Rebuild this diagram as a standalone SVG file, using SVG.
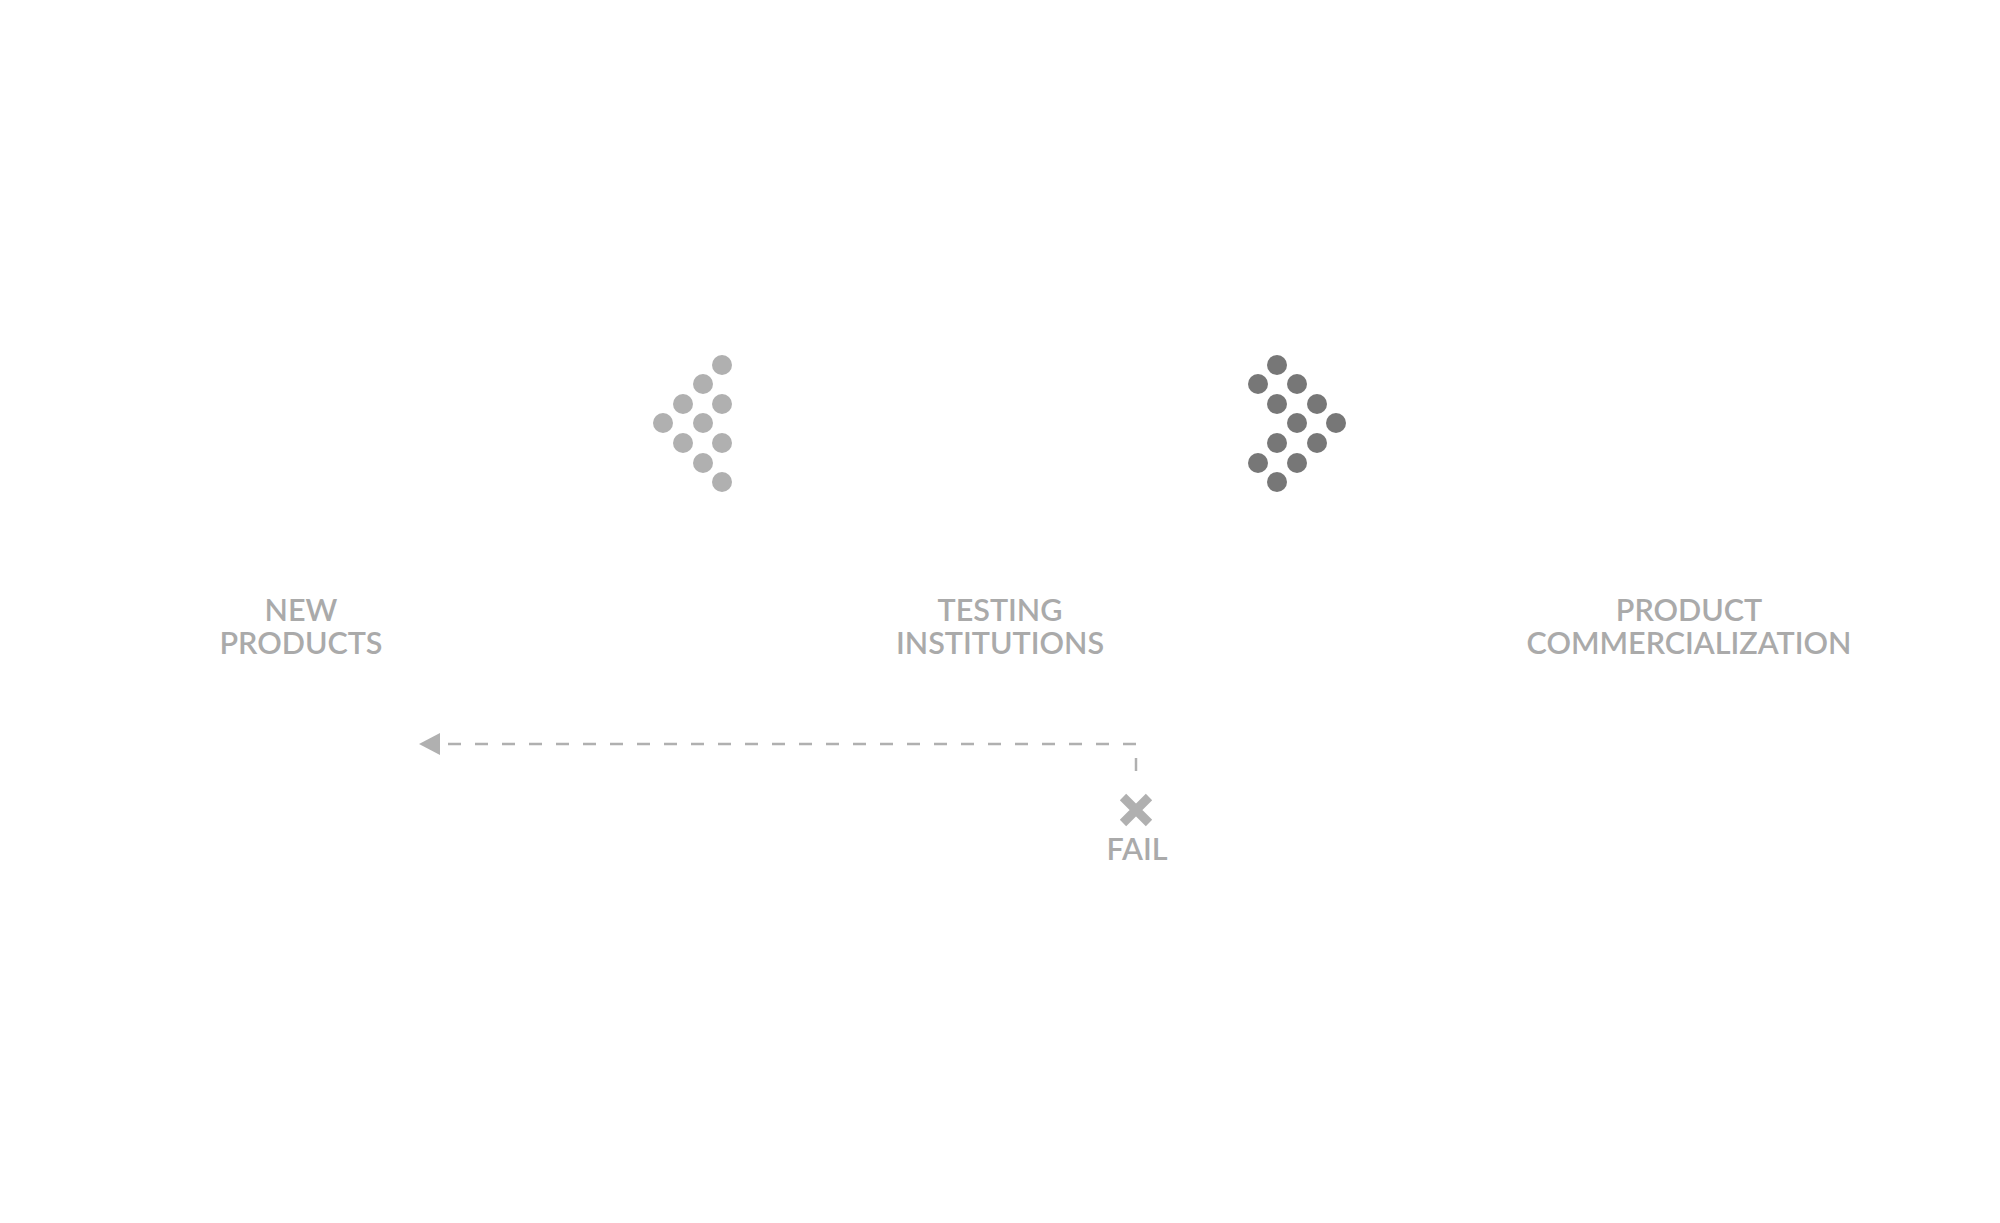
<svg xmlns="http://www.w3.org/2000/svg" width="2000" height="1223" viewBox="0 0 2000 1223">
<style>
.l{fill:#b0b0b0}.d{fill:#777}
text{font-family:Lato,"Liberation Sans",sans-serif;font-size:30.5px;font-weight:600;fill:#aaa;text-anchor:middle}
</style>
<rect width="2000" height="1223" fill="#fff"/>
<g id="arrow-left" class="l">
<circle cx="722" cy="365" r="10"/><circle cx="703" cy="384" r="10"/><circle cx="683" cy="404" r="10"/><circle cx="722" cy="404" r="10"/>
<circle cx="663" cy="423" r="10"/><circle cx="703" cy="423" r="10"/><circle cx="683" cy="443" r="10"/><circle cx="722" cy="443" r="10"/>
<circle cx="703" cy="463" r="10"/><circle cx="722" cy="482" r="10"/>
</g>
<g id="arrow-right" class="d">
<circle cx="1277" cy="365" r="10"/><circle cx="1258" cy="384" r="10"/><circle cx="1297" cy="384" r="10"/><circle cx="1277" cy="404" r="10"/><circle cx="1317" cy="404" r="10"/>
<circle cx="1297" cy="423" r="10"/><circle cx="1336" cy="423" r="10"/><circle cx="1277" cy="443" r="10"/><circle cx="1317" cy="443" r="10"/>
<circle cx="1258" cy="463" r="10"/><circle cx="1297" cy="463" r="10"/><circle cx="1277" cy="482" r="10"/>
</g>
<g id="new-products"><text x="301" y="621">NEW</text><text x="301" y="654">PRODUCTS</text></g>
<g id="testing"><text x="1000" y="621">TESTING</text><text x="1000" y="654">INSTITUTIONS</text></g>
<g id="commercialization"><text x="1689" y="621">PRODUCT</text><text x="1689" y="654">COMMERCIALIZATION</text></g>
<g id="connectors" stroke="#b0b0b0" stroke-width="2.5" fill="none">
<path d="M1136 744H446" stroke-dasharray="13 14"/>
<path d="M1136 758V771"/>
<polygon points="419,744 440,733 440,755" fill="#b0b0b0" stroke="none"/>
</g>
<g id="fail">
<path d="M1123 797L1149 823M1149 797L1123 823" stroke="#b0b0b0" stroke-width="9"/>
<text x="1137" y="860">FAIL</text>
</g>
</svg>
